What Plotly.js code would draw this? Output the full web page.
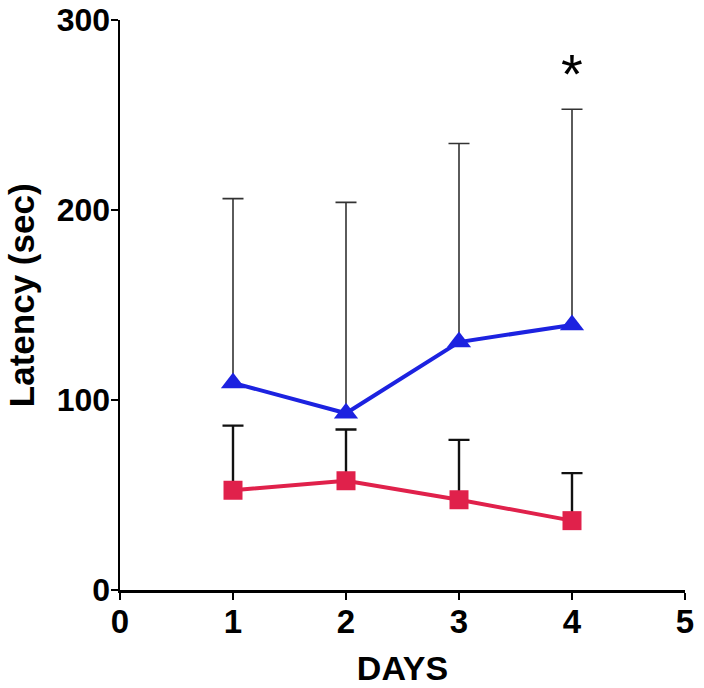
<!DOCTYPE html>
<html>
<head>
<meta charset="utf-8">
<script src="https://cdn.plot.ly/plotly-3.0.1.min.js"></script>
<style>html,body{margin:0;padding:0;background:#fff;}#chart{width:704px;height:688px;}</style>
</head>
<body>
<div id="chart"></div>
<script>
const days = [1, 2, 3, 4];
const blueMean = [109, 93, 130.5, 139.5];
const blueErr = [97, 111, 104.5, 113.5];
const redMean = [52.5, 57.5, 47.5, 36.5];
const redErr = [34, 27, 31.5, 25];
const xTicks = [0, 1, 2, 3, 4, 5];
const yTicks = [0, 100, 200, 300];
const starDay = 4;
const starY = 272;

const FONT = 'Arial, "Liberation Sans", sans-serif';
const BLUE = '#1c22e0';
const RED = '#e0214b';

const zeros = days.map(() => 0);
const blueTop = blueMean.map((v, i) => v + blueErr[i]);
const redTop = redMean.map((v, i) => v + redErr[i]);

function capTrace(tops, color, thick) {
  return {
    x: days, y: tops, type: 'scatter', mode: 'markers',
    marker: {size: 1, opacity: 0, color: color},
    error_y: {type: 'data', array: zeros, symmetric: true, color: color, thickness: thick, width: 10.5},
    showlegend: false, hoverinfo: 'skip'
  };
}

const traces = [
  capTrace(blueTop, '#333333', 1.6),
  capTrace(redTop, '#111111', 2.4),
  {
    x: days, y: blueMean, type: 'scatter', mode: 'lines+markers',
    line: {color: BLUE, width: 4},
    marker: {symbol: 'triangle-up', size: 21, color: BLUE},
    error_y: {type: 'data', array: blueErr, symmetric: false, arrayminus: zeros,
              color: '#333333', thickness: 1.6, width: 0},
    showlegend: false, cliponaxis: false
  },
  {
    x: days, y: redMean, type: 'scatter', mode: 'lines+markers',
    line: {color: RED, width: 4},
    marker: {symbol: 'square', size: 19, color: RED},
    error_y: {type: 'data', array: redErr, symmetric: false, arrayminus: zeros,
              color: '#111111', thickness: 2.4, width: 0},
    showlegend: false, cliponaxis: false
  }
];

const layout = {
  width: 704, height: 688,
  margin: {l: 120, r: 19, t: 20, b: 98},
  paper_bgcolor: '#fff', plot_bgcolor: '#fff',
  font: {family: FONT, color: '#000'},
  xaxis: {
    range: [0, 5], tickvals: xTicks, ticktext: xTicks.map(String),
    showline: true, linecolor: '#000', linewidth: 2.5,
    ticks: 'outside', ticklen: 7, tickwidth: 2.5, tickcolor: '#000',
    showgrid: false, zeroline: false,
    tickfont: {family: FONT, size: 33, weight: 'bold', color: '#000'},
    ticklabelstandoff: -6,
    title: {text: 'DAYS', font: {family: FONT, size: 34, weight: 'bold', color: '#000'}, standoff: 17},
    automargin: false, fixedrange: true
  },
  yaxis: {
    range: [0, 300], tickvals: yTicks, ticktext: yTicks.map(String),
    showline: true, linecolor: '#000', linewidth: 2.5,
    ticks: 'outside', ticklen: 7, tickwidth: 2.5, tickcolor: '#000',
    showgrid: false, zeroline: false,
    tickfont: {family: FONT, size: 32, weight: 'bold', color: '#000'},
    ticklabelstandoff: -6,
    title: {text: '<span style="color:rgba(0,0,0,0)">..</span>Latency (sec)', font: {family: FONT, size: 35, weight: 'bold', color: '#000'}, standoff: 12},
    automargin: false, fixedrange: true
  },
  annotations: [
    {x: starDay, y: starY, xref: 'x', yref: 'y', text: '*', showarrow: false,
     font: {family: FONT, size: 56, color: '#000'}, xanchor: 'center', yanchor: 'middle'}
  ]
};

Plotly.newPlot('chart', traces, layout, {staticPlot: true, displayModeBar: false});
</script>
</body>
</html>
